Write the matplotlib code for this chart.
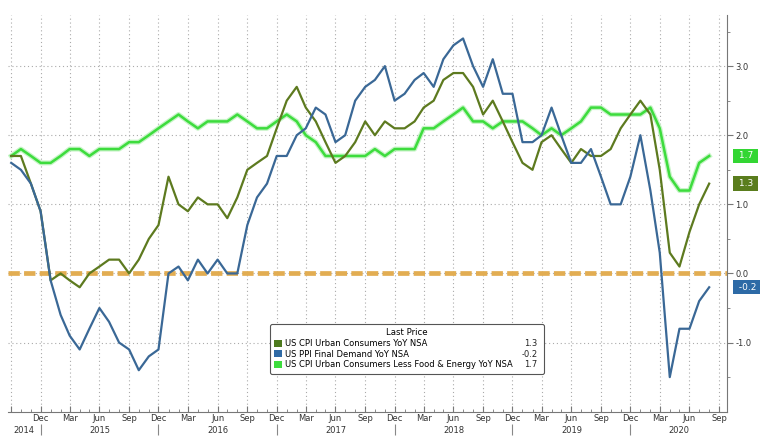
import matplotlib
matplotlib.use('Agg')
import matplotlib.pyplot as plt
import matplotlib.dates as mdates
import matplotlib.patheffects as pe
import matplotlib.transforms as mtransforms
from matplotlib.patches import Patch
from matplotlib.ticker import FixedLocator, FormatStrFormatter, FuncFormatter
import pandas as pd

# monthly YoY readings, Sep 2014 .. Aug 2020
months = pd.date_range('2014-09-01', periods=72, freq='MS')

cpi = [1.7, 1.7, 1.3, 0.9, -0.1, 0.0, -0.1, -0.2, 0.0, 0.1, 0.2, 0.2,
       0.0, 0.2, 0.5, 0.7, 1.4, 1.0, 0.9, 1.1, 1.0, 1.0, 0.8, 1.1,
       1.5, 1.6, 1.7, 2.1, 2.5, 2.7, 2.4, 2.2, 1.9, 1.6, 1.7, 1.9,
       2.2, 2.0, 2.2, 2.1, 2.1, 2.2, 2.4, 2.5, 2.8, 2.9, 2.9, 2.7,
       2.3, 2.5, 2.2, 1.9, 1.6, 1.5, 1.9, 2.0, 1.8, 1.6, 1.8, 1.7,
       1.7, 1.8, 2.1, 2.3, 2.5, 2.3, 1.5, 0.3, 0.1, 0.6, 1.0, 1.3]

ppi = [1.6, 1.5, 1.3, 0.9, -0.1, -0.6, -0.9, -1.1, -0.8, -0.5, -0.7, -1.0,
       -1.1, -1.4, -1.2, -1.1, 0.0, 0.1, -0.1, 0.2, 0.0, 0.2, 0.0, 0.0,
       0.7, 1.1, 1.3, 1.7, 1.7, 2.0, 2.1, 2.4, 2.3, 1.9, 2.0, 2.5,
       2.7, 2.8, 3.0, 2.5, 2.6, 2.8, 2.9, 2.7, 3.1, 3.3, 3.4, 3.0,
       2.7, 3.1, 2.6, 2.6, 1.9, 1.9, 2.0, 2.4, 2.0, 1.6, 1.6, 1.8,
       1.4, 1.0, 1.0, 1.4, 2.0, 1.2, 0.3, -1.5, -0.8, -0.8, -0.4, -0.2]

core = [1.7, 1.8, 1.7, 1.6, 1.6, 1.7, 1.8, 1.8, 1.7, 1.8, 1.8, 1.8,
        1.9, 1.9, 2.0, 2.1, 2.2, 2.3, 2.2, 2.1, 2.2, 2.2, 2.2, 2.3,
        2.2, 2.1, 2.1, 2.2, 2.3, 2.2, 2.0, 1.9, 1.7, 1.7, 1.7, 1.7,
        1.7, 1.8, 1.7, 1.8, 1.8, 1.8, 2.1, 2.1, 2.2, 2.3, 2.4, 2.2,
        2.2, 2.1, 2.2, 2.2, 2.2, 2.1, 2.0, 2.1, 2.0, 2.1, 2.2, 2.4,
        2.4, 2.3, 2.3, 2.3, 2.3, 2.4, 2.1, 1.4, 1.2, 1.2, 1.6, 1.7]

names = ['US CPI Urban Consumers YoY NSA',
         'US PPI Final Demand YoY NSA',
         'US CPI Urban Consumers Less Food & Energy YoY NSA']

c_cpi = '#5d7a1f'
c_ppi = '#3a6896'
c_core = '#3ddc3d'

fig = plt.figure(figsize=(7.6, 4.42), dpi=100)
ax = fig.add_axes([0.0105, 0.0686, 0.946, 0.8975])

ax.axhline(0, color='#e2ad52', lw=3.4, ls=(0, (2.4, 0.9)), zorder=2)
ax.plot(months, core, color=c_core, lw=1.8, zorder=3,
        path_effects=[pe.Stroke(linewidth=3.6, foreground='#c6f4c6'), pe.Normal()])
ax.plot(months, cpi, color=c_cpi, lw=1.6, zorder=4)
ax.plot(months, ppi, color=c_ppi, lw=1.6, zorder=4)

x0, x1 = pd.Timestamp('2014-08-22'), pd.Timestamp('2020-09-25')
ax.set_xlim(x0, x1)
ax.set_ylim(-2.0, 3.74)

# axes and ticks
for s in ['left', 'top']:
    ax.spines[s].set_visible(False)
for s in ['right', 'bottom']:
    ax.spines[s].set_color('#777777')
    ax.spines[s].set_linewidth(0.8)


def month_label(x, pos):
    d = mdates.num2date(x)
    if d.year == 2014 and d.month < 12:
        return ''
    return d.strftime('%b')


ax.xaxis.set_major_locator(mdates.MonthLocator(bymonth=[3, 6, 9, 12]))
ax.xaxis.set_minor_locator(mdates.MonthLocator())
ax.xaxis.set_major_formatter(FuncFormatter(month_label))
ax.yaxis.tick_right()
ax.yaxis.set_major_locator(FixedLocator([-1, 0, 1, 2, 3]))
ax.yaxis.set_minor_locator(FixedLocator([-1.5, -0.5, 0.5, 1.5, 2.5, 3.5]))
ax.yaxis.set_major_formatter(FormatStrFormatter('%.1f'))

ax.tick_params(axis='x', which='major', direction='in', length=4, pad=2,
               labelsize=6, color='#777777', labelcolor='#333333')
ax.tick_params(axis='x', which='minor', direction='in', length=2, color='#777777')
ax.tick_params(axis='y', which='major', direction='out', length=4, pad=2,
               labelsize=6, color='#777777', labelcolor='#333333')
ax.tick_params(axis='y', which='minor', direction='out', length=2, color='#777777')

ax.grid(True, which='major', color='#aaaaaa', ls=(0, (1, 2.5)), lw=0.8)

# year labels and separators under the month ticks
xt = ax.get_xaxis_transform()
for yr in range(2014, 2021):
    left = max(x0, pd.Timestamp(yr - 1, 12, 1))
    right = min(x1, pd.Timestamp(yr, 12, 1))
    ax.text(left + (right - left) / 2, -0.047, str(yr), transform=xt,
            ha='center', va='center', fontsize=6, color='#333333')
decs = [pd.Timestamp(yr, 12, 1) for yr in range(2014, 2020)]
ax.vlines(decs, -0.03, -0.06, transform=xt, colors='#888888', lw=0.8, clip_on=False)

# last value tags on the right
yt = mtransforms.blended_transform_factory(ax.transAxes, ax.transData)
for series, col in [(core, '#33d633'), (cpi, '#5a7d1d'), (ppi, '#2d6aa6')]:
    ax.text(1.012, series[-1], f' {series[-1]:.1f} ', transform=yt, ha='left',
            va='center', fontsize=6.5, color='white',
            bbox=dict(boxstyle='square,pad=0.3', fc=col, ec='none'))

# legend with last price column
handles = [Patch(facecolor=c, edgecolor='none') for c in ['#4d7a1e', '#2f6aa5', '#3ddc3d']]
leg = ax.legend(handles, names, title='Last Price', loc='upper left',
                bbox_to_anchor=(0.359, 0.093, 0.392, 0.138), mode='expand',
                fontsize=6, title_fontsize=6.2, handlelength=0.9, handleheight=0.9,
                handletextpad=0.4, borderpad=0.5, labelspacing=0.2,
                fancybox=True, edgecolor='#555555', framealpha=1)
leg.get_frame().set_linewidth(0.8)

fig.canvas.draw()
fb = leg.get_frame().get_window_extent()
for t, series in zip(leg.get_texts(), [cpi, ppi, core]):
    bb = t.get_window_extent()
    fig.text((fb.x1 - 6) / fig.bbox.width, (bb.y0 + bb.y1) / 2 / fig.bbox.height,
             f'{series[-1]:.1f}', ha='right', va='center', fontsize=6, color='#222222')

fig.savefig('out.png', dpi=100)
